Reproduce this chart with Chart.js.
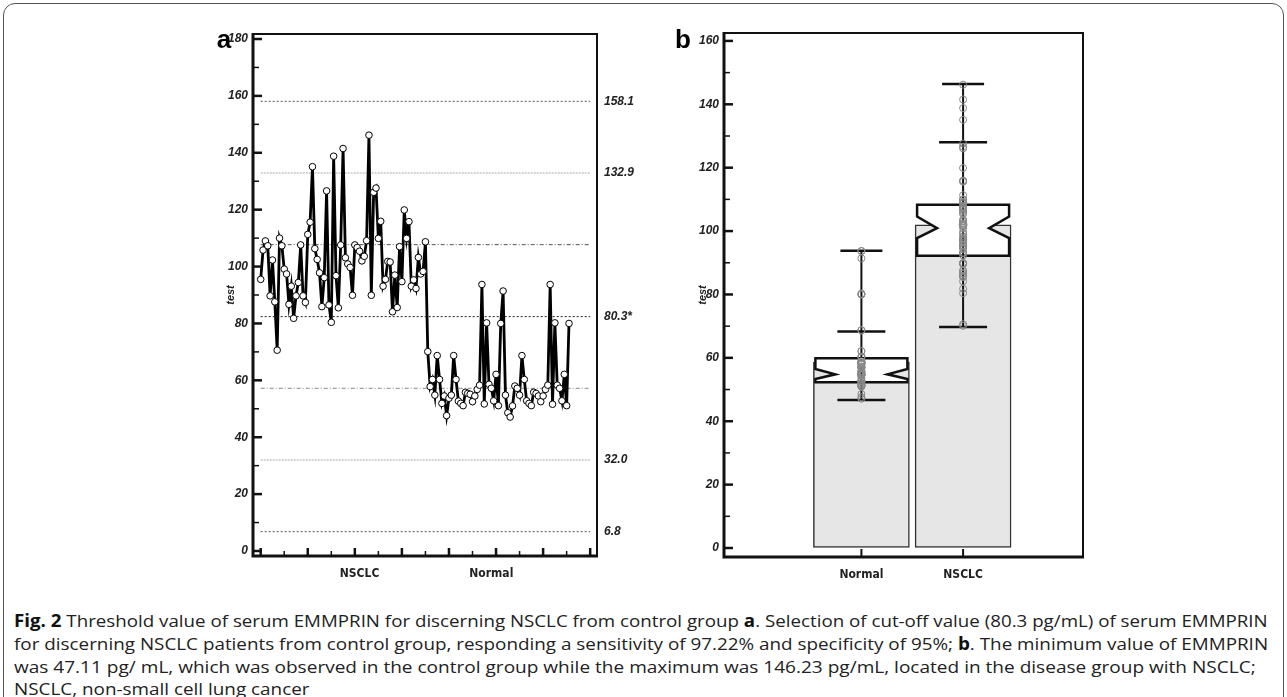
<!DOCTYPE html>
<html>
<head>
<meta charset="utf-8">
<script src="https://cdn.jsdelivr.net/npm/chart.js@4.4.1/dist/chart.umd.min.js"></script>
<style>
  body { margin: 0; background: #fff; width: 1287px; height: 697px; overflow: hidden; position: relative; }
  #frame { position: absolute; left: 3px; top: 3px; width: 1279px; height: 740px; border: 1px solid #555; border-radius: 12px; }
  #chartA { position: absolute; left: 190px; top: 0; }
  #chartB { position: absolute; left: 670px; top: 0; }
  .cap { position: absolute; left: 14px; font: 17px/22px "Open Sans", sans-serif; color: #222; white-space: nowrap; transform-origin: 0 0; }
  .cap b { font-weight: 700; color: #111; }
</style>
</head>
<body>
<div id="frame"></div>
<canvas id="chartA" width="480" height="600"></canvas>
<canvas id="chartB" width="440" height="600"></canvas>

<div class="cap" data-w="1254" style="top:610px"><b>Fig. 2</b> Threshold value of serum EMMPRIN for discerning NSCLC from control group <b>a</b>. Selection of cut-off value (80.3 pg/mL) of serum EMMPRIN</div>
<div class="cap" data-w="1254" style="top:633px">for discerning NSCLC patients from control group, responding a sensitivity of 97.22% and specificity of 95%; <b>b</b>. The minimum value of EMMPRIN</div>
<div class="cap" data-w="1242" style="top:656px">was 47.11 pg/ mL, which was observed in the control group while the maximum was 146.23 pg/mL, located in the disease group with NSCLC;</div>
<div class="cap" style="top:678px">NSCLC, non-small cell lung cancer</div>

<script>
// panel a: serum EMMPRIN per subject, in plotted order
const nsclcValues = [95.5, 105.8, 109.0, 107.3, 89.7, 102.3, 87.6, 70.6, 110.0, 107.3,
  99.1, 97.4, 86.7, 93.1, 81.8, 89.7, 94.4, 107.6, 89.7, 87.4,
  111.3, 115.6, 135.1, 106.3, 102.5, 97.8, 85.9, 96.1, 126.6, 86.5,
  80.4, 138.8, 96.8, 85.5, 107.6, 141.5, 103.1, 100.9, 99.7, 89.9,
  107.6, 106.7, 105.4, 102.0, 103.6, 109.1, 146.2, 89.9, 126.1, 127.6,
  109.9, 115.9, 93.1, 95.5, 101.8, 101.6, 84.1, 97.0, 85.6, 107.0,
  94.7, 119.9, 109.9, 115.8, 93.1, 95.3, 92.3, 103.2, 97.4, 98.3,
  108.7, 70.1];
const normalValues = [57.8, 60.3, 54.8, 68.7, 60.3, 51.9, 54.5, 47.6, 53.7, 54.8,
  68.7, 60.3, 52.7, 51.9, 51.1, 55.8, 55.4, 55.1, 52.5, 54.5,
  56.8, 58.3, 93.7, 51.7, 80.2, 58.6, 57.2, 52.8, 62.1, 51.1,
  80.0, 91.4, 54.8, 48.6, 47.1, 51.0, 58.0, 57.2, 54.8, 68.7,
  60.3, 52.8, 51.9, 51.1, 55.8, 55.4, 54.5, 52.5, 54.5, 56.8,
  58.3, 93.7, 51.6, 80.2, 58.3, 57.2, 52.8, 62.1, 51.1, 80.0];
const refLineValues = [158.1, 132.9, 107.7, 82.4, 57.2, 32.0, 6.8];
const refLineLabels = ["158.1", "132.9", "", "80.3*", "", "32.0", "6.8"];
const groupNamesA = ["NSCLC", "Normal"];

// panel b: box plot summary
const groupNamesB = ["Normal", "NSCLC"];
const groupMeans = [58.7, 102.0];
const boxQ1 = [52.3, 92.2];
const boxMedian = [54.8, 100.9];
const boxQ3 = [59.9, 108.3];
const notchLow = [53.3, 97.8];
const notchHigh = [56.5, 104.6];
const whiskerLow = [46.7, 69.7];
const whiskerHigh = [93.8, 146.4];
const fenceHigh = [68.3, 128.0];

// styles / placement
const refStyles = [
  { color: "#555", dash: [2, 2] },
  { color: "#aaa", dash: [2, 1] },
  { color: "#555", dash: [4, 2, 1, 2] },
  { color: "#222", dash: [2, 2] },
  { color: "#888", dash: [4, 2, 1, 2] },
  { color: "#aaa", dash: [2, 1] },
  { color: "#555", dash: [2, 2] }
];
const labelPosA = [43, 99];
const xTickValsA = [1, 11, 21, 31, 41, 51, 61, 71, 81, 91, 101, 111, 121, 131, 141];
const tickFont = { family: "'Liberation Sans', Arial, sans-serif", size: 12, style: "italic", weight: "bold" };
const narrowBold = 'bold 12px "Liberation Sans Narrow", "DejaVu Sans Condensed", Arial, sans-serif';

function drawFrame(ctx, a) {
  ctx.save();
  ctx.strokeStyle = "#111";
  ctx.lineWidth = 2;
  ctx.beginPath();
  ctx.moveTo(a.left, a.top); ctx.lineTo(a.right, a.top); ctx.lineTo(a.right, a.bottom);
  ctx.stroke();
  ctx.lineWidth = 3;
  ctx.beginPath();
  ctx.moveTo(a.left, a.top - 1); ctx.lineTo(a.left, a.bottom); ctx.lineTo(a.right + 1, a.bottom);
  ctx.stroke();
  ctx.restore();
}

function drawYTicks(ctx, chart) {
  const y = chart.scales.y, a = chart.chartArea;
  ctx.save();
  ctx.strokeStyle = "#111";
  y.ticks.forEach(t => {
    const py = y.getPixelForValue(t.value);
    const major = t.value % 20 === 0;
    ctx.lineWidth = major ? 2.5 : 1.5;
    ctx.beginPath();
    ctx.moveTo(a.left, py);
    ctx.lineTo(a.left + (major ? 9 : 6), py);
    ctx.stroke();
  });
  ctx.restore();
}

function drawSideText(ctx, chart, x, letter, letterX) {
  const a = chart.chartArea;
  ctx.save();
  ctx.fillStyle = "#222";
  ctx.font = "italic bold 11px 'Liberation Sans', Arial, sans-serif";
  ctx.translate(x, (a.top + a.bottom) / 2);
  ctx.rotate(-Math.PI / 2);
  ctx.textAlign = "center";
  ctx.textBaseline = "middle";
  ctx.fillText("test", 0, 0);
  ctx.restore();
  ctx.save();
  ctx.fillStyle = "#000";
  ctx.font = "bold 26px 'Liberation Sans', Arial, sans-serif";
  ctx.textAlign = "center";
  ctx.textBaseline = "alphabetic";
  ctx.fillText(letter, letterX, 48);
  ctx.restore();
}

const axesA = {
  id: "axesA",
  afterDraw(chart) {
    const ctx = chart.ctx, a = chart.chartArea, x = chart.scales.x, y = chart.scales.y;
    drawFrame(ctx, a);
    drawYTicks(ctx, chart);
    ctx.save();
    ctx.strokeStyle = "#111";
    xTickValsA.forEach((v, k) => {
      const px = x.getPixelForValue(v);
      const major = k % 2 === 0;
      ctx.lineWidth = major ? 2.5 : 1.5;
      ctx.beginPath();
      ctx.moveTo(px, a.bottom);
      ctx.lineTo(px, a.bottom - (major ? 8 : 5));
      ctx.stroke();
    });
    ctx.fillStyle = "#222";
    ctx.font = "italic bold 12px 'Liberation Sans', Arial, sans-serif";
    ctx.textAlign = "left";
    ctx.textBaseline = "middle";
    refLineValues.forEach((v, k) => {
      if (refLineLabels[k]) ctx.fillText(refLineLabels[k], a.right + 7, y.getPixelForValue(v));
    });
    ctx.font = narrowBold;
    ctx.textAlign = "center";
    groupNamesA.forEach((g, k) => ctx.fillText(g, x.getPixelForValue(labelPosA[k]), a.bottom + 18));
    ctx.restore();
    drawSideText(ctx, chart, 41, "a", 34);
  }
};

const axesB = {
  id: "axesB",
  afterDatasetDraw(chart, args) {
    if (args.meta.type !== "bar") return;
    const ctx = chart.ctx, x = chart.scales.x, y = chart.scales.y;
    ctx.save();
    groupNamesB.forEach((g, k) => {
      const cx = x.getPixelForValue(k + 1);
      const l = cx - 46, r = cx + 46, nd = 20;
      // notched box
      ctx.beginPath();
      ctx.moveTo(l, y.getPixelForValue(boxQ3[k]));
      ctx.lineTo(r, y.getPixelForValue(boxQ3[k]));
      ctx.lineTo(r, y.getPixelForValue(notchHigh[k]));
      ctx.lineTo(r - nd, y.getPixelForValue(boxMedian[k]));
      ctx.lineTo(r, y.getPixelForValue(notchLow[k]));
      ctx.lineTo(r, y.getPixelForValue(boxQ1[k]));
      ctx.lineTo(l, y.getPixelForValue(boxQ1[k]));
      ctx.lineTo(l, y.getPixelForValue(notchLow[k]));
      ctx.lineTo(l + nd, y.getPixelForValue(boxMedian[k]));
      ctx.lineTo(l, y.getPixelForValue(notchHigh[k]));
      ctx.closePath();
      ctx.fillStyle = "#fff";
      ctx.fill();
      ctx.strokeStyle = "#111";
      ctx.lineWidth = 2.5;
      ctx.lineJoin = "miter";
      ctx.stroke();
      // whisker
      ctx.lineWidth = 2;
      ctx.beginPath();
      ctx.moveTo(cx, y.getPixelForValue(whiskerLow[k]));
      ctx.lineTo(cx, y.getPixelForValue(whiskerHigh[k]));
      ctx.stroke();
      ctx.lineWidth = 2.5;
      [[whiskerHigh[k], 21], [fenceHigh[k], 24], [whiskerLow[k], 24]].forEach(([v, hw]) => {
        const py = y.getPixelForValue(v);
        ctx.beginPath();
        ctx.moveTo(cx - hw, py);
        ctx.lineTo(cx + hw, py);
        ctx.stroke();
      });
    });
    ctx.restore();
  },
  afterDraw(chart) {
    const ctx = chart.ctx, a = chart.chartArea, x = chart.scales.x;
    drawFrame(ctx, a);
    drawYTicks(ctx, chart);
    ctx.save();
    ctx.strokeStyle = "#111";
    ctx.lineWidth = 2;
    ctx.fillStyle = "#222";
    ctx.font = narrowBold;
    ctx.textAlign = "center";
    ctx.textBaseline = "middle";
    groupNamesB.forEach((g, k) => {
      const px = x.getPixelForValue(k + 1);
      ctx.beginPath();
      ctx.moveTo(px, a.bottom);
      ctx.lineTo(px, a.bottom - 8);
      ctx.stroke();
      ctx.fillText(g, px, a.bottom + 18);
    });
    ctx.restore();
    drawSideText(ctx, chart, 33, "b", 13);
  }
};

function yAxis(min, max) {
  return {
    min: min, max: max,
    afterFit: s => { s.width = 40; },
    border: { display: false },
    grid: { drawOnChartArea: false, drawTicks: false },
    ticks: {
      stepSize: 10, includeBounds: false, autoSkip: false, padding: 5, color: "#222", font: tickFont,
      callback: v => (v % 20 === 0 ? String(v) : "")
    }
  };
}

const seqA = nsclcValues.concat(normalValues).map((v, i) => ({ x: i + 1, y: v }));
const refSets = refLineValues.map((v, k) => ({
  data: [{ x: 1, y: v }, { x: 141, y: v }],
  borderColor: refStyles[k].color,
  borderDash: refStyles[k].dash,
  borderWidth: 1,
  pointRadius: 0,
  order: 2
}));

new Chart(document.getElementById("chartA"), {
  type: "line",
  data: {
    datasets: [{
      data: seqA,
      borderColor: "#000",
      borderWidth: 2.8,
      pointRadius: 3.3,
      pointBackgroundColor: "#fff",
      pointBorderColor: "#000",
      pointBorderWidth: 1,
      tension: 0,
      order: 1
    }, ...refSets]
  },
  options: {
    responsive: false,
    animation: false,
    events: [],
    layout: { padding: { left: 23, right: 73, top: 34, bottom: 44 } },
    plugins: { legend: { display: false }, tooltip: { enabled: false } },
    scales: {
      x: { type: "linear", min: -2.27, max: 143.9, display: false },
      y: yAxis(-1.76, 181.76)
    }
  },
  plugins: [axesA]
});

const pointsB = normalValues.map(v => ({ x: 1, y: v })).concat(nsclcValues.map(v => ({ x: 2, y: v })));

new Chart(document.getElementById("chartB"), {
  type: "bar",
  data: {
    datasets: [{
      type: "scatter",
      data: pointsB,
      pointRadius: 3.5,
      pointBackgroundColor: "rgba(0,0,0,0)",
      pointBorderColor: "#888",
      pointBorderWidth: 1,
      order: 0
    }, {
      type: "scatter",
      data: groupMeans.map((v, i) => ({ x: i + 1, y: v })),
      pointRadius: 4,
      pointBackgroundColor: "#fff",
      pointBorderColor: "#999",
      pointBorderWidth: 1,
      order: 0
    }, {
      type: "bar",
      data: groupMeans.map((v, i) => ({ x: i + 1, y: v })),
      backgroundColor: "#e6e6e6",
      borderColor: "#333",
      borderWidth: 1.5,
      borderSkipped: false,
      barThickness: 96,
      order: 1
    }]
  },
  options: {
    responsive: false,
    animation: false,
    events: [],
    layout: { padding: { left: 14, right: 27, top: 33, bottom: 43 } },
    plugins: { legend: { display: false }, tooltip: { enabled: false } },
    scales: {
      x: { type: "linear", min: -0.057, max: 2.885, display: false },
      y: yAxis(-2.84, 162.5)
    }
  },
  plugins: [axesB]
});

// squeeze caption lines to the reference line widths
const caps = Array.from(document.querySelectorAll(".cap"));
let factors = [];
caps.forEach(el => {
  if (!el.dataset.w) return;
  const f = Number(el.dataset.w) / el.offsetWidth;
  factors.push(f);
  el.style.transform = "scaleX(" + f + ")";
});
const avgF = factors.reduce((s, f) => s + f, 0) / factors.length;
caps.forEach(el => { if (!el.dataset.w) el.style.transform = "scaleX(" + avgF + ")"; });
</script>
</body>
</html>
